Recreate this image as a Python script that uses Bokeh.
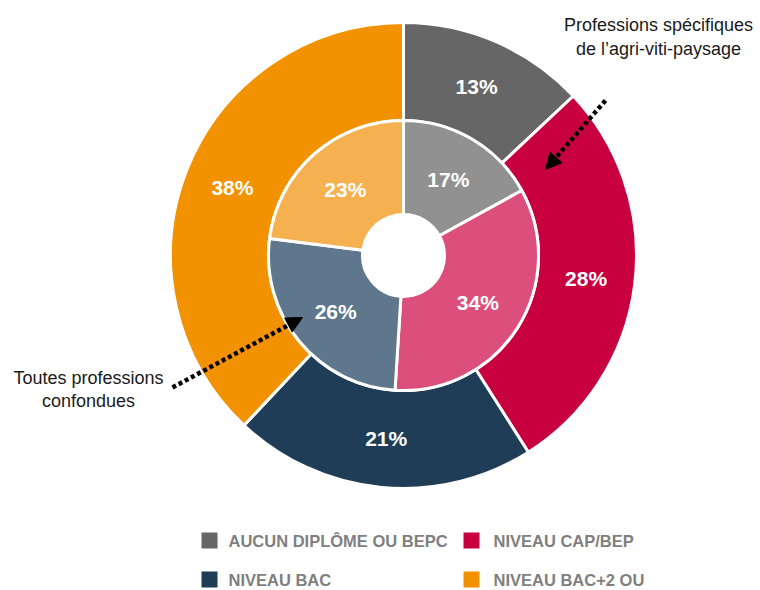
import math
from bokeh.plotting import figure
from bokeh.models import Range1d, Arrow, NormalHead, ColumnDataSource
from bokeh.core.properties import value
from bokeh.embed import file_html
from bokeh.resources import INLINE

# ---- data ----
categories = ["Aucun diplôme ou BEPC", "Niveau CAP/BEP", "Niveau Bac", "Niveau Bac+2 ou plus"]
outer_values = [13, 28, 21, 38]   # Professions spécifiques de l'agri-viti-paysage
inner_values = [17, 34, 26, 23]   # Toutes professions confondues
outer_colors = ["#666666", "#C8003F", "#1F3D56", "#F29200"]
inner_colors = ["#919191", "#DC4F7D", "#5F778C", "#F5B04F"]
legend_labels = ["AUCUN DIPLÔME OU BEPC", "NIVEAU CAP/BEP", "NIVEAU BAC", "NIVEAU BAC+2 OU"]
note_outer = ["Professions spécifiques", "de l’agri-viti-paysage"]
note_inner = ["Toutes professions", "confondues"]

W, H = 756, 588
FONT = value("Liberation Sans")

def X(sx):
    return sx

def Y(sy):
    return H - sy

p = figure(width=W, height=H, output_backend="svg", toolbar_location=None,
           x_range=Range1d(0, W), y_range=Range1d(0, H),
           x_axis_type=None, y_axis_type=None, min_border=0)
p.grid.visible = False
p.outline_line_color = None
p.background_fill_color = "white"
p.border_fill_color = "white"

cx, cy = X(403), Y(255)

def ring(vals, colors, r0, r1, rl):
    tot = float(sum(vals))
    s, e, lx, ly, txt = [], [], [], [], []
    c = 0.0
    for v in vals:
        a0 = math.pi / 2 - 2 * math.pi * c / tot
        a1 = math.pi / 2 - 2 * math.pi * (c + v) / tot
        m = (a0 + a1) / 2
        s.append(a0)
        e.append(a1)
        lx.append(cx + rl * math.cos(m))
        ly.append(cy + rl * math.sin(m))
        txt.append(f"{v}%")
        c += v
    src = ColumnDataSource(dict(s=s, e=e, color=colors, lx=lx, ly=ly, txt=txt))
    p.annular_wedge(x=cx, y=cy, inner_radius=r0, outer_radius=r1,
                    start_angle="s", end_angle="e", direction="clock",
                    fill_color="color", line_color="white", line_width=3, source=src)
    p.text(x="lx", y="ly", text="txt", source=src, text_align="center",
           text_baseline="middle", text_font=FONT, text_font_style="bold",
           text_font_size="21px", text_color="white")

ring(outer_values, outer_colors, 135, 233, 184)
ring(inner_values, inner_colors, 41, 135, 88)

# annotations
p.text(x=[X(658)] * 2, y=[Y(24), Y(48)], text=note_outer, text_align="center",
       text_baseline="middle", text_font=FONT, text_font_size="18px", text_color="#1a1a1a")
p.text(x=[X(88)] * 2, y=[Y(377), Y(400)], text=note_inner, text_align="center",
       text_baseline="middle", text_font=FONT, text_font_size="18px", text_color="#1a1a1a")

for (x0, y0, x1, y1) in [(605, 100, 545, 169), (172, 387, 302, 317)]:
    p.add_layout(Arrow(x_start=X(x0), y_start=Y(y0), x_end=X(x1), y_end=Y(y1),
                       line_color="black", line_width=4.5, line_dash="4 3",
                       end=NormalHead(size=16, fill_color="black", line_color="black",
                                      line_width=1)))

# legend
lg_sq_x = [X(209), X(471), X(209), X(471)]
lg_sq_y = [Y(540), Y(540), Y(579), Y(579)]
lg_tx_x = [X(228), X(493), X(228), X(493)]
p.rect(x=lg_sq_x, y=lg_sq_y, width=16, height=16, fill_color=outer_colors, line_color=None)
p.text(x=lg_tx_x, y=lg_sq_y, text=legend_labels, text_align="left", text_baseline="middle",
       text_font=FONT, text_font_style="bold", text_font_size="16.5px", text_color="#7F7F7F")

open("out.html", "w").write(file_html(p, INLINE))
